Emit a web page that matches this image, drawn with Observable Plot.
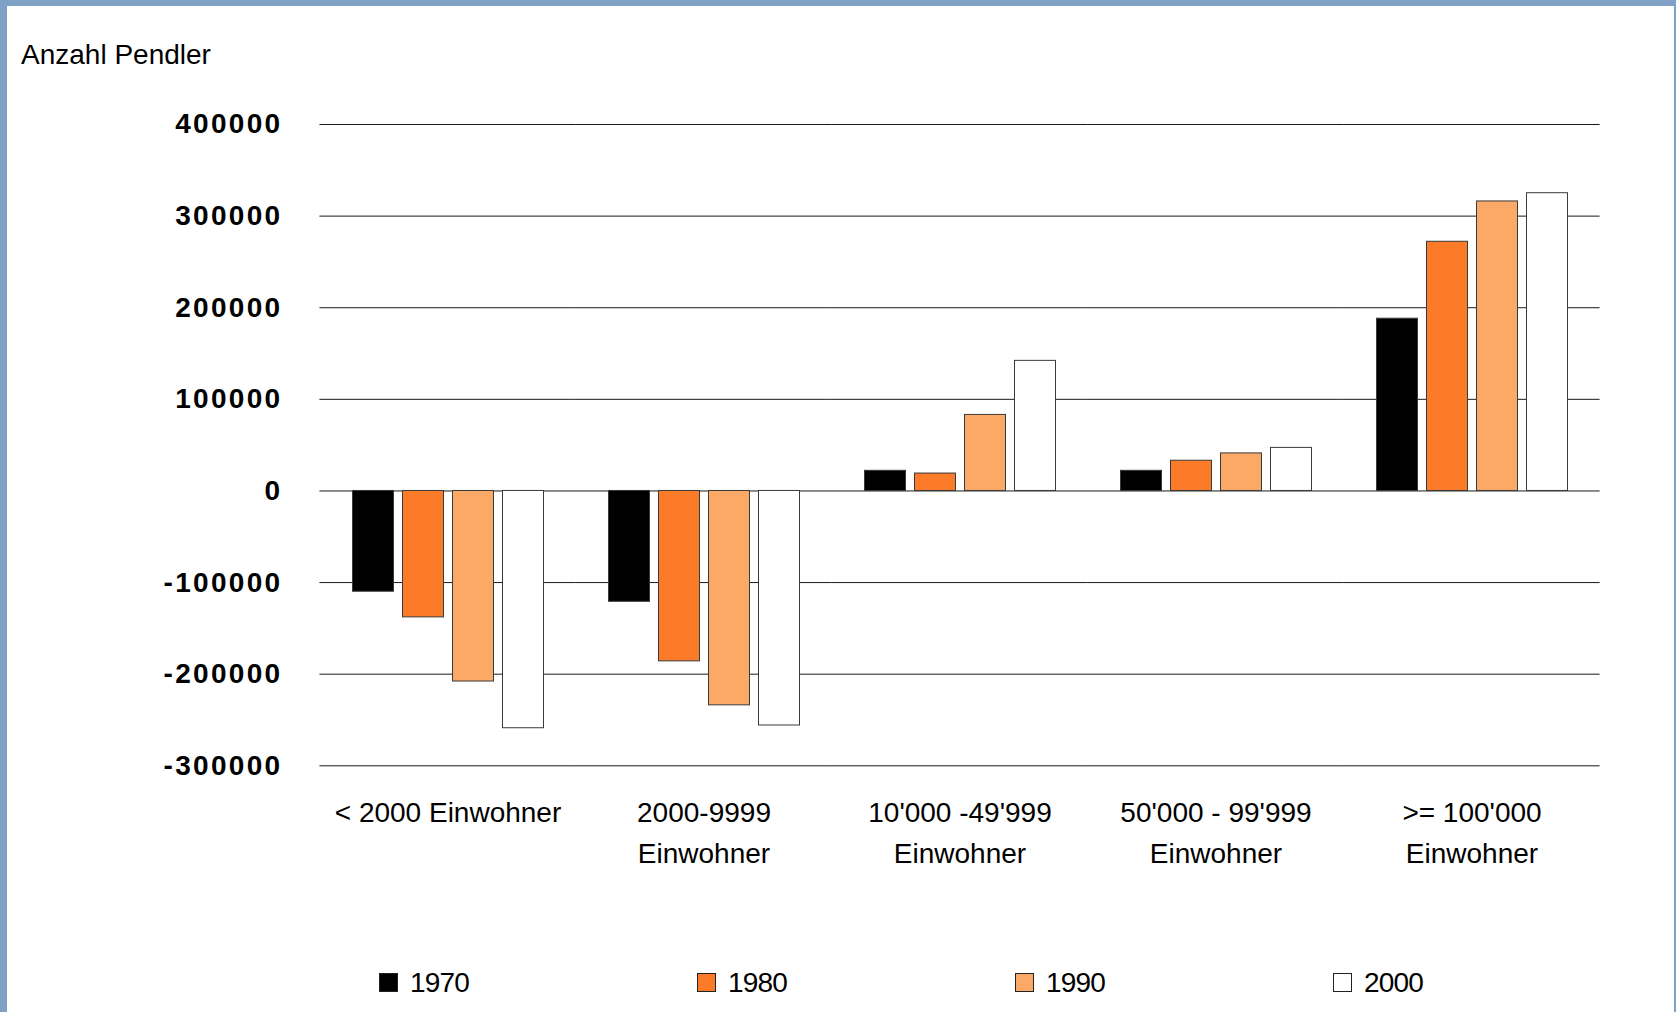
<!DOCTYPE html>
<html>
<head>
<meta charset="utf-8">
<script src="https://cdn.jsdelivr.net/npm/d3@7"></script>
<script src="https://cdn.jsdelivr.net/npm/@observablehq/plot@0.6"></script>
<style>
  body { margin: 0; background: #ffffff; }
  #page {
    position: relative; width: 1676px; height: 1012px; overflow: hidden;
    background: #ffffff; font-family: "Liberation Sans", Arial, sans-serif; color: #000;
  }
  #title {
    position: absolute; left: 21px; top: 41px; font-size: 28px; line-height: 28px;
    white-space: nowrap;
  }
  #chart { position: absolute; left: 0; top: 0; }
  #legend { position: absolute; left: 0; top: 940px; }
  .edge { position: absolute; background: #7fa1c5; }
  .edge.top { left: 0; top: 0; width: 1676px; height: 6px; }
  .edge.left { left: 0; top: 0; width: 7px; height: 1012px; }
  .edge.right { right: 0; top: 0; width: 2px; height: 1012px; }
  g[aria-label="y-axis tick label"] text { letter-spacing: 2.3px; }
</style>
</head>
<body>
<div id="page">
  <div id="title">Anzahl Pendler</div>
  <div id="chart"></div>
  <svg id="legend" width="1676" height="72"></svg>
  <div class="edge top"></div>
  <div class="edge left"></div>
  <div class="edge right"></div>
</div>
<script>
// Gemeindegrössenklassen (x-Achse)
const categories = [
  "< 2000 Einwohner",
  "2000-9999\nEinwohner",
  "10'000 -49'999\nEinwohner",
  "50'000 - 99'999\nEinwohner",
  ">= 100'000\nEinwohner"
];

// Pendlersaldo je Volkszählungsjahr
const years = ["1970", "1980", "1990", "2000"];
const v1970 = [-110000, -121000, 22000, 22000, 188000];
const v1980 = [-138000, -186000, 19000, 33000, 272000];
const v1990 = [-208000, -234000, 83000, 41000, 316000];
const v2000 = [-259000, -256000, 142000, 47000, 325000];

// Achsenbeschriftung
const yTicks = [-300000, -200000, -100000, 0, 100000, 200000, 300000, 400000];

// Farben der Jahre
const colors = ["#000000", "#fb7b29", "#fca968", "#ffffff"];

const series = [v1970, v1980, v1990, v2000];
const rows = years.flatMap((yr, i) =>
  categories.map((c, j) => ({category: c, year: yr, value: series[i][j]}))
);

const font = '"Liberation Sans", Arial, sans-serif';

// frame geometry
const W = 1676, H = 880;
const mLeft = 317.5, mRight = 74.5, mTop = 124, mBottom = 114.7;
const fxPadInner = 0.176, fxPadOuter = fxPadInner / 2;
const fxStep = (W - mLeft - mRight) / categories.length;
const halfGap = fxStep * fxPadOuter; // grid lines bridge the gaps between facets

const chart = Plot.plot({
  width: W,
  height: H,
  marginLeft: mLeft,
  marginRight: mRight,
  marginTop: mTop,
  marginBottom: mBottom,
  style: {fontFamily: font, background: "transparent", color: "#000", overflow: "visible"},
  fx: {domain: categories, paddingInner: fxPadInner, paddingOuter: fxPadOuter, label: null, axis: null},
  x: {domain: years, padding: 0.19, axis: null},
  y: {domain: [-300000, 400000], axis: null},
  color: {domain: years, range: colors},
  marks: [
    Plot.ruleY(yTicks, {stroke: "#1a1a1a", strokeWidth: 1, insetLeft: -halfGap, insetRight: -halfGap}),
    Plot.barY(rows, {
      fx: "category", x: "year", y: "value",
      fill: "year", stroke: "#3a3a3a", strokeWidth: 1
    }),
    Plot.axisY({
      ticks: yTicks,
      tickSize: 0,
      tickPadding: halfGap + 37.5,
      tickFormat: d => String(d),
      fontSize: 28,
      fontWeight: "bold",
      label: null,
      fill: "#000"
    }),
    Plot.axisFx({
      anchor: "bottom",
      domain: categories,
      tickSize: 0,
      tickPadding: 27.5,
      fontSize: 28,
      lineHeight: 1.45,
      label: null,
      fill: "#000"
    })
  ]
});
document.getElementById("chart").appendChild(chart);

// legend row below the chart
const legend = d3.select("#legend");
const item = legend.selectAll("g")
  .data(years)
  .join("g")
  .attr("transform", (d, i) => `translate(${379 + i * 318},0)`);
item.append("rect")
  .attr("x", 0.5).attr("y", 33.5)
  .attr("width", 18).attr("height", 18)
  .attr("fill", (d, i) => colors[i])
  .attr("stroke", "#222").attr("stroke-width", 1);
item.append("text")
  .attr("x", 31).attr("y", 52)
  .attr("font-family", font)
  .attr("font-size", 28)
  .attr("letter-spacing", "-0.8px")
  .attr("fill", "#000")
  .text(d => d);
</script>
</body>
</html>
